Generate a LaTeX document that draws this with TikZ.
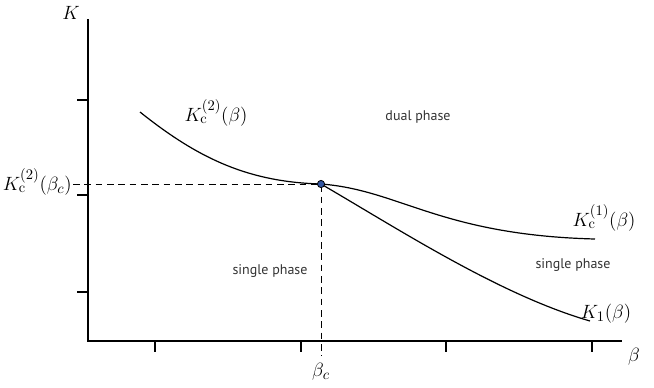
\documentclass[tikz,border=0pt]{standalone}
\usepackage{fontspec}
\setsansfont{PT Sans}
\usetikzlibrary{positioning}
\tikzset{
  axis/.style={line width=.9pt},
  curve/.style={line width=.9pt},
  guide/.style={dashed,dash pattern=on 5pt off 3.5pt,line width=.6pt},
  lbl/.style={font=\fontsize{15.5}{17}\selectfont,inner sep=0pt},
  phase/.style={font=\sffamily\fontsize{10.5}{12}\selectfont,text=black!80,inner sep=0pt}
}
\begin{document}
\begin{tikzpicture}[x=0.75pt,y=-0.75pt]
\useasboundingbox (0,0) rectangle (654,387);
% axes
\coordinate (o) at (88,341);
\coordinate (ytop) at (88,19);
\coordinate (xend) at (622,341);
\draw[axis] (ytop)--(o)--(xend);
\foreach \y in {100,195,292}
  \draw[axis] (77,\y)--(88,\y);
\foreach \x in {155,301,446,592}
  \draw[axis] (\x,341)--(\x,352);
% critical point and guides
\coordinate (crit) at (321,184);
\coordinate (kc) at (73,184);
\coordinate (bc) at (321,356);
\draw[guide] (kc)--(crit)--(bc);
\draw[curve] (140,112) .. controls (200,160) and (250,182) .. (crit);
\draw[curve] (crit) .. controls (400,190) and (440,235) .. (595,239);
\draw[curve] (crit) .. controls (400,230) and (500,295) .. (590,321);
\draw[fill={rgb,255:red,50;green,85;blue,160},line width=.6pt] (crit) circle (3.6);
% labels
\node[lbl] (klab) at (71,13) {$K$};
\node[lbl] (blab) at (634,357) {$\beta$};
\node[lbl] (bclab) at (321,372) {$\beta_c$};
\node[lbl,anchor=east] (kclab) at (72,182) {$K^{(2)}_{\mathrm{c}}(\beta_c)$};
\node[lbl] (k2lab) at (216,113) {$K^{(2)}_{\mathrm{c}}(\beta)$};
\node[lbl] (k1lab) at (604,218) {$K^{(1)}_{\mathrm{c}}(\beta)$};
\node[lbl] (klonelab) at (606,314) {$K_{1}(\beta)$};
\node[phase] (dual) at (418,117) {dual phase};
\node[phase] (single1) at (270,271) {single phase};
\node[phase] (single2) at (573,265) {single phase};
\end{tikzpicture}
\end{document}
